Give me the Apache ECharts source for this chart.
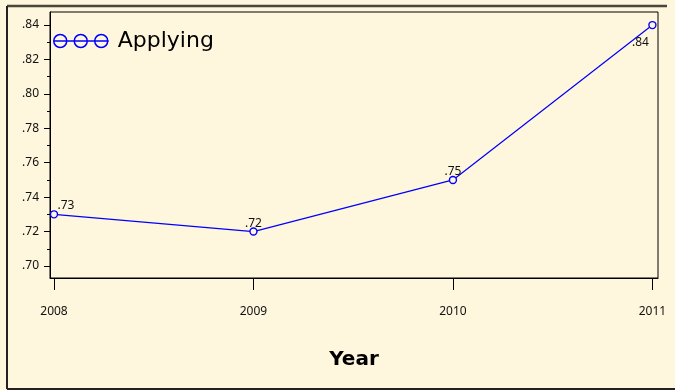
<!DOCTYPE html>
<html>
<head>
<meta charset="utf-8">
<script src="https://cdn.jsdelivr.net/npm/echarts@6/dist/echarts.min.js"></script>
<style>
html,body{margin:0;padding:0;background:#fef6dd;}
#chart{width:675px;height:390px;}
</style>
</head>
<body>
<div id="chart"></div>
<script>
var years = [2008, 2009, 2010, 2011];
var applying = [0.73, 0.72, 0.75, 0.84];
var yTicks = [0.70, 0.72, 0.74, 0.76, 0.78, 0.80, 0.82, 0.84];
var yMinorTicks = [0.71, 0.73, 0.75, 0.77, 0.79, 0.81, 0.83];
var seriesName = 'Applying';
var xTitle = 'Year';

function fmt(v){ return Number(v).toFixed(2).replace(/^0/, ''); }

var blue = '#0000ff';
var bg = '#fef6dd';
var lblFont = 'Noto Sans';

var data = years.map(function(y, i){
  var d = { value: [y, applying[i]] };
  if (i === 0) d.label = { position: 'top', offset: [12, 1] };
  if (i === years.length - 1) d.label = { position: 'bottom', distance: 7, offset: [-12, 0] };
  return d;
});

var chart = echarts.init(document.getElementById('chart'), null, {renderer: 'canvas'});
chart.setOption({
  backgroundColor: bg,
  animation: false,
  grid: { left: 50, top: 12, right: 17, bottom: 112, show: true, borderColor: '#000', borderWidth: 1, backgroundColor: bg },
  legend: {
    left: 53, top: 30, padding: 0,
    itemWidth: 55, itemHeight: 13, itemGap: 10,
    icon: 'path://M0 6.5 A6.5 6.5 0 1 1 13 6.5 A6.5 6.5 0 1 1 0 6.5 Z M20.5 6.5 A6.5 6.5 0 1 1 33.5 6.5 A6.5 6.5 0 1 1 20.5 6.5 Z M41 6.5 A6.5 6.5 0 1 1 54 6.5 A6.5 6.5 0 1 1 41 6.5 Z M0 6.5 L55 6.5',
    itemStyle: { color: 'rgba(0,0,0,0)', borderColor: blue, borderWidth: 1.5 },
    textStyle: { fontFamily: 'DejaVu Sans', fontSize: 22, color: '#000', padding: [5,0,0,4] },
    data: [seriesName]
  },
  xAxis: {
    type: 'value',
    min: 2007.98, max: 2011.028,
    name: xTitle, nameLocation: 'middle', nameGap: 72,
    nameTextStyle: { fontFamily: 'DejaVu Sans', fontWeight: 'bold', fontSize: 20, color: '#000' },
    splitLine: { show: false },
    axisLine: { show: true, onZero: false, lineStyle: { color: '#000', width: 1 } },
    axisTick: { show: true, length: 12, customValues: years, lineStyle: { color: '#000' } },
    axisLabel: { customValues: years, margin: 28, fontFamily: lblFont, fontSize: 12, color: '#111', formatter: function(v){ return String(v); } }
  },
  yAxis: [{
    type: 'value',
    min: 0.693, max: 0.8476,
    splitLine: { show: false },
    axisLine: { show: true, onZero: false, lineStyle: { color: '#000' } },
    axisTick: { show: true, length: 6, customValues: yTicks, lineStyle: { color: '#000' } },
    axisLabel: { customValues: yTicks, margin: 11, fontFamily: lblFont, fontSize: 12, color: '#111', formatter: fmt }
  }, {
    type: 'value', position: 'left',
    min: 0.693, max: 0.8476,
    splitLine: { show: false },
    axisLine: { show: false },
    axisTick: { show: true, length: 3, customValues: yMinorTicks, lineStyle: { color: '#000' } },
    axisLabel: { show: false }
  }],
  graphic: [
    { type: 'line', shape: { x1: 7, y1: 6, x2: 667, y2: 6 }, style: { stroke: '#4a463c', lineWidth: 2.5 } },
    { type: 'line', shape: { x1: 7, y1: 6, x2: 7, y2: 389 }, style: { stroke: '#222', lineWidth: 2 } },
    { type: 'line', shape: { x1: 7, y1: 389, x2: 675, y2: 389 }, style: { stroke: '#222', lineWidth: 2 } }
  ],
  series: [{
    name: seriesName,
    type: 'line',
    data: data,
    symbol: 'circle',
    symbolSize: 7,
    itemStyle: { color: bg, borderColor: blue, borderWidth: 1.4 },
    lineStyle: { color: blue, width: 1.2 },
    label: { show: true, position: 'top', distance: 0, offset: [0, 2], fontFamily: lblFont, fontSize: 12, color: '#111', formatter: function(p){ return fmt(p.value[1]); } }
  }]
});
</script>
</body>
</html>
